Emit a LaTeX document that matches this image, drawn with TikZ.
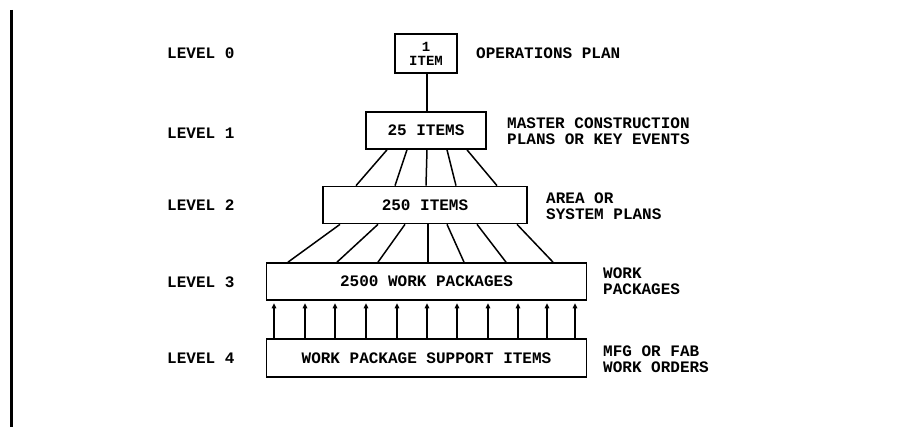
\documentclass[tikz,border=0pt]{standalone}
\usepackage{fontspec}
\setmonofont{Liberation Mono}
\usetikzlibrary{arrows.meta,calc}
\newcommand\dgfont{\ttfamily\bfseries\fontsize{16}{16}\selectfont}
\begin{document}
\begin{tikzpicture}[x=1pt,y=1pt,
  box/.style={draw,line width=1.7pt,inner sep=0pt,font=\dgfont,align=center},
  lab/.style={anchor=west,inner sep=0pt,font=\dgfont,align=left},
  fan/.style={line width=1.5pt},
  uparrow/.style={line width=1.6pt,shorten >=2.5pt,-{Triangle[length=5pt,width=4.5pt]}},
]
\useasboundingbox (0,0) rectangle (914,-427);
\draw[line width=2.8pt] (11.5,-10) -- (11.5,-427);

% boxes
\node[box,minimum width=62pt,minimum height=39pt,font=\ttfamily\bfseries\fontsize{14}{14}\selectfont] (L0) at (426,-53.5) {1\\ITEM};
\node[box,minimum width=120pt,minimum height=37pt] (L1) at (426,-130.5) {25 ITEMS};
\node[box,minimum width=204pt,minimum height=37pt] (L2) at (425,-205) {250 ITEMS};
\node[box,minimum width=320pt,minimum height=37pt] (L3) at (426.5,-281.5) {2500 WORK PACKAGES};
\node[box,minimum width=320pt,minimum height=38pt] (L4) at (426.5,-358) {WORK PACKAGE SUPPORT ITEMS};

% level labels
\node[lab] (v0) at (167,-53) {LEVEL 0};
\node[lab] (v1) at (167,-133) {LEVEL 1};
\node[lab] (v2) at (167,-205) {LEVEL 2};
\node[lab] (v3) at (167,-282) {LEVEL 3};
\node[lab] (v4) at (167,-358) {LEVEL 4};

% descriptions
\node[lab] (d0) at (476,-53) {OPERATIONS PLAN};
\node[lab] (d1) at (507,-131) {MASTER CONSTRUCTION\\PLANS OR KEY EVENTS};
\node[lab] (d2) at (546,-206) {AREA OR\\SYSTEM PLANS};
\node[lab] (d3) at (603,-281) {WORK\\PACKAGES};
\node[lab] (d4) at (603,-359) {MFG OR FAB\\WORK ORDERS};

% connectors
\draw[fan] ([xshift=1pt]L0.south) -- ([xshift=1pt]L1.north);
\foreach \a/\b in {-39/-69, -19/-30, 1/1, 21/31, 41/72}
  \draw[fan] ([xshift=\a pt]L1.south) -- ([xshift=\b pt]L2.north);
\foreach \a/\b in {-85/-138.5, -47/-89.5, -20/-48.5, 3/1.5, 22/37.5, 52/79.5, 92/126.5}
  \draw[fan] ([xshift=\a pt]L2.south) -- ([xshift=\b pt]L3.north);
\foreach \d in {-152.5,-121.5,-91.5,-60.5,-29.5,0.5,30.5,61.5,91.5,120.5,148.5}
  \draw[uparrow] ([xshift=\d pt]L4.north) -- ([xshift=\d pt]L3.south);
\end{tikzpicture}
\end{document}
